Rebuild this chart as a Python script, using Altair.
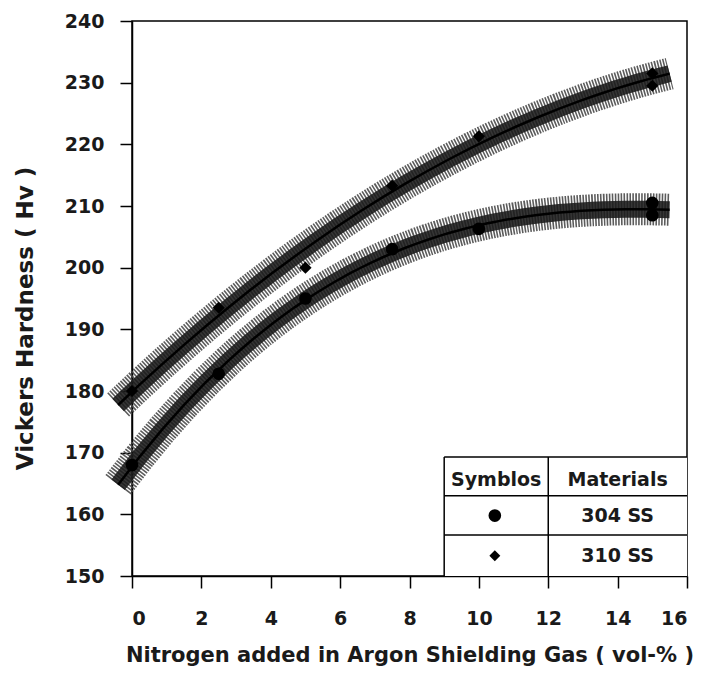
import altair as alt
import pandas as pd

# ---- data ----
nitrogen = [0, 2.5, 5, 7.5, 10, 15, 15]
hv_304 = [168, 182.8, 195, 203, 206.3, 210.5, 208.5]
hv_310 = [180, 193.5, 200, 213.3, 221.3, 231.5, 229.5]
materials = ["304 SS", "310 SS"]
fit_order = {"304 SS": 3, "310 SS": 2}

x_ticks = list(range(0, 17))
y_ticks = list(range(150, 241, 5))

# legend table (in data units)
leg_h_lines_y = [169.3, 163.0, 156.65]
leg_v_lines_x = [9.0, 12.0]
leg_text = ["Symblos", "Materials", "304 SS", "310 SS"]

FONT = "DejaVu Sans"

rows = []
for n, v in zip(nitrogen, hv_304):
    rows.append({"N": n, "HV": v, "material": materials[0]})
for n, v in zip(nitrogen, hv_310):
    rows.append({"N": n, "HV": v, "material": materials[1]})
df = pd.DataFrame(rows)

x_scale = alt.Scale(domain=[0, 16], nice=False, zero=False)
y_scale = alt.Scale(domain=[150, 240], nice=False, zero=False)

x_axis = alt.Axis(
    values=x_ticks,
    labelExpr="datum.value % 2 === 0 ? datum.label : ''",
    tickSize={"condition": {"test": "datum.value % 2 === 0", "value": 12}, "value": 7},
    tickWidth=1.5, tickColor="black", domainColor="black", domainWidth=1.5,
    labelFont=FONT, labelFontSize=19, labelFontWeight="bold", labelColor="#1a1a1a",
    labelPadding=21, grid=False,
    title="Nitrogen added in Argon Shielding Gas ( vol-% )",
    titleFont=FONT, titleFontSize=21, titleFontWeight="bold", titleColor="#1a1a1a",
    titlePadding=16,
)
y_axis = alt.Axis(
    values=y_ticks,
    labelExpr="datum.value % 10 === 0 ? datum.label : ''",
    tickSize={"condition": {"test": "datum.value % 10 === 0", "value": 12}, "value": 7},
    tickWidth=1.5, tickColor="black", domainColor="black", domainWidth=1.5,
    labelFont=FONT, labelFontSize=19, labelFontWeight="bold", labelColor="#1a1a1a",
    labelPadding=16, grid=False,
    title="Vickers Hardness ( Hv )",
    titleFont=FONT, titleFontSize=23, titleFontWeight="bold", titleColor="#1a1a1a",
    titlePadding=27, titleY=297,
)

base = alt.Chart(df)


def fit_layers(mat, first=False):
    fit = base.transform_filter(alt.datum.material == mat).transform_regression(
        "N", "HV", method="poly", order=fit_order[mat], extent=[-0.4, 15.5]
    )
    if first:
        enc = dict(
            x=alt.X("N:Q", scale=x_scale, axis=x_axis),
            y=alt.Y("HV:Q", scale=y_scale, axis=y_axis),
        )
    else:
        enc = dict(x="N:Q", y="HV:Q")
    hatch = fit.mark_line(
        strokeWidth=32, color="#4a4a4a", strokeDash=[1.6, 1.3], opacity=0.9, strokeCap="butt"
    ).encode(**enc)
    core = fit.mark_line(strokeWidth=17, color="#1a1a1a", opacity=0.88).encode(x="N:Q", y="HV:Q")
    line = fit.mark_line(strokeWidth=2.5, color="black").encode(x="N:Q", y="HV:Q")
    return [hatch, core, line]


pts_304 = base.transform_filter(alt.datum.material == materials[0]).mark_point(
    shape="circle", filled=True, color="black", size=160, opacity=1
).encode(x="N:Q", y="HV:Q")
pts_310 = base.transform_filter(alt.datum.material == materials[1]).mark_point(
    shape="diamond", filled=True, color="black", size=150, opacity=1
).encode(x="N:Q", y="HV:Q")

# legend table
hl = pd.DataFrame({"y": leg_h_lines_y, "x": [9.0] * 3, "x2": [16.0] * 3})
vl = pd.DataFrame({"x": leg_v_lines_x, "y": [150.0] * 2, "y2": [169.3] * 2})
leg_white = alt.Chart(pd.DataFrame({"x": [9.0], "x2": [16.0], "y": [150.0], "y2": [169.3]})).mark_rect(
    fill="white"
).encode(x="x:Q", x2="x2:Q", y="y:Q", y2="y2:Q")
leg_h = alt.Chart(hl).mark_rule(color="black", strokeWidth=1.5).encode(
    x="x:Q", x2="x2:Q", y="y:Q"
)
leg_v = alt.Chart(vl).mark_rule(color="black", strokeWidth=1.5).encode(
    x="x:Q", y="y:Q", y2="y2:Q"
)
txt = pd.DataFrame({
    "label": leg_text,
    "x": [10.5, 14.0, 14.0, 14.0],
    "y": [165.6, 165.6, 159.8, 153.3],
})
leg_txt = alt.Chart(txt).mark_text(
    font=FONT, fontSize=19, fontWeight="bold", color="#1a1a1a", baseline="middle", align="center"
).encode(x="x:Q", y="y:Q", text="label:N")
sym = pd.DataFrame({"x": [10.46, 10.46], "y": [159.8, 153.3], "material": materials})
leg_c = alt.Chart(sym).transform_filter(alt.datum.material == materials[0]).mark_point(
    shape="circle", filled=True, color="black", size=160, opacity=1
).encode(x="x:Q", y="y:Q")
leg_d = alt.Chart(sym).transform_filter(alt.datum.material == materials[1]).mark_point(
    shape="diamond", filled=True, color="black", size=120, opacity=1
).encode(x="x:Q", y="y:Q")

layers = fit_layers(materials[1], first=True) + fit_layers(materials[0])
chart = alt.layer(
    *layers, pts_304, pts_310,
    leg_white, leg_h, leg_v, leg_txt, leg_c, leg_d,
).properties(
    width=555, height=555,
    autosize=alt.AutoSizeParams(type="none"),
    padding={"left": 132, "top": 21, "right": 19, "bottom": 100},
    background="white",
).configure_view(stroke="black", strokeWidth=1.5)

chart.save("out.html", embed_options={"renderer": "svg", "actions": False})
